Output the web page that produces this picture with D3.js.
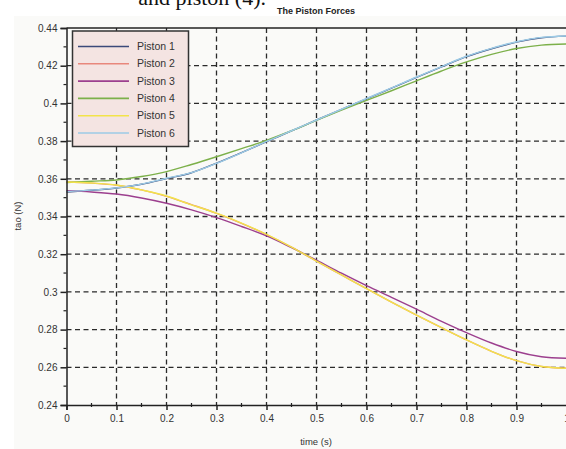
<!DOCTYPE html>
<html>
<head>
<meta charset="utf-8">
<script src="https://cdn.jsdelivr.net/npm/d3@7"></script>
<style>
  body { margin: 0; background: #ffffff; }
  svg { display: block; }
  text { font-family: "Liberation Sans", Arial, sans-serif; }
</style>
</head>
<body>
<svg id="svg1" width="566" height="449"></svg>
<script>
"use strict"

// ======================================================================
// chart data
const time = [0, 0.05, 0.1, 0.15, 0.2, 0.25, 0.3, 0.35, 0.4, 0.45, 0.5,
              0.55, 0.6, 0.65, 0.7, 0.75, 0.8, 0.85, 0.9, 0.95, 1.0];

const piston1 = [0.3530, 0.3539, 0.3551, 0.3571, 0.3601, 0.3632, 0.3683, 0.3739, 0.3797, 0.3854, 0.3912,
                 0.3968, 0.4024, 0.4081, 0.4138, 0.4194, 0.4248, 0.4290, 0.4325, 0.4348, 0.4357];
const piston2 = [0.3583, 0.3577, 0.3566, 0.3541, 0.3507, 0.3463, 0.3417, 0.3364, 0.3304, 0.3237, 0.3163,
                 0.3090, 0.3017, 0.2946, 0.2877, 0.2810, 0.2745, 0.2685, 0.2635, 0.2604, 0.2595];
const piston3 = [0.3537, 0.3530, 0.3519, 0.3498, 0.3470, 0.3435, 0.3394, 0.3347, 0.3297, 0.3235, 0.3168,
                 0.3099, 0.3033, 0.2971, 0.2908, 0.2844, 0.2784, 0.2729, 0.2684, 0.2656, 0.2648];
const piston4 = [0.3580, 0.3587, 0.3594, 0.3612, 0.3638, 0.3676, 0.3717, 0.3760, 0.3804, 0.3855, 0.3910,
                 0.3964, 0.4016, 0.4067, 0.4120, 0.4172, 0.4220, 0.4260, 0.4291, 0.4309, 0.4315];
const piston5 = [0.3583, 0.3578, 0.3567, 0.3541, 0.3509, 0.3462, 0.3418, 0.3365, 0.3305, 0.3238, 0.3163,
                 0.3090, 0.3017, 0.2946, 0.2877, 0.2810, 0.2745, 0.2685, 0.2635, 0.2604, 0.2595];
const piston6 = [0.3532, 0.3540, 0.3552, 0.3572, 0.3603, 0.3633, 0.3682, 0.3738, 0.3798, 0.3855, 0.3912,
                 0.3969, 0.4026, 0.4082, 0.4140, 0.4195, 0.4250, 0.4292, 0.4327, 0.4350, 0.4358];

const seriesNames  = ["Piston 1", "Piston 2", "Piston 3", "Piston 4", "Piston 5", "Piston 6"];
const seriesValues = [piston1, piston2, piston3, piston4, piston5, piston6];
const seriesColors = ["#3b4a7a", "#e8877c", "#9c3f8e", "#7cb04a", "#f2e34a", "#9ccbe6"];

const xTicks = [0, 0.1, 0.2, 0.3, 0.4, 0.5, 0.6, 0.7, 0.8, 0.9, 1];
const yTicks = [0.24, 0.26, 0.28, 0.3, 0.32, 0.34, 0.36, 0.38, 0.4, 0.42, 0.44];

// =======================================
// layout
const svg = d3.select("#svg1");
const plotLeft = 66.5, plotRight = 566.5, plotTop = 28, plotBottom = 405;

// light grey paper behind the figure
svg.append("rect")
  .attr("x", 14).attr("y", 16)
  .attr("width", 552).attr("height", 433)
  .attr("fill", "#fafaf8");

// cut off caption from the page above
svg.append("text")
  .attr("x", 266).attr("y", 5)
  .attr("text-anchor", "end")
  .style("font-family", "'Liberation Serif', 'Times New Roman', serif")
  .style("font-size", "22px")
  .attr("fill", "#111")
  .text("and piston (4).");

const x = d3.scaleLinear().domain([0, 1]).range([plotLeft, plotRight]);
const y = d3.scaleLinear().domain([0.24, 0.44]).range([plotBottom, plotTop]);

// grid lines
const grid = svg.append("g").attr("class", "grid")
  .attr("stroke", "#2a2a2a")
  .attr("stroke-width", 1.3)
  .attr("stroke-dasharray", "5,3.5");

grid.selectAll(".vgrid")
  .data(xTicks.filter(d => d > 0 && d < 1))
  .enter().append("line")
    .attr("class", "vgrid")
    .attr("x1", d => x(d)).attr("x2", d => x(d))
    .attr("y1", plotTop).attr("y2", plotBottom);

grid.selectAll(".hgrid")
  .data(yTicks.filter(d => d > 0.24 && d < 0.44))
  .enter().append("line")
    .attr("class", "hgrid")
    .attr("x1", plotLeft).attr("x2", plotRight)
    .attr("y1", d => y(d)).attr("y2", d => y(d));

// top frame line
svg.append("line")
  .attr("x1", plotLeft).attr("x2", plotRight)
  .attr("y1", plotTop).attr("y2", plotTop)
  .attr("stroke", "#222").attr("stroke-width", 1.5);

// curves
const line = d3.line()
  .x((d, i) => x(time[i]))
  .y(d => y(d))
  .curve(d3.curveCatmullRom);

svg.selectAll(".curve")
  .data(seriesValues)
  .enter().append("path")
    .attr("class", "curve")
    .attr("d", d => line(d))
    .attr("fill", "none")
    .attr("stroke", (d, i) => seriesColors[i])
    .attr("stroke-width", 1.4);

// axes
svg.append("g")
  .attr("class", "axis axis-x")
  .attr("transform", `translate(0,${plotBottom})`)
  .call(d3.axisBottom(x).tickValues(xTicks).tickFormat(d3.format("")).tickSize(5).tickPadding(5));

svg.append("g")
  .attr("class", "axis axis-y")
  .attr("transform", `translate(${plotLeft},0)`)
  .call(d3.axisLeft(y).tickValues(yTicks).tickFormat(d3.format("")).tickSize(6).tickPadding(3));

// minor ticks
svg.append("g").selectAll("line")
  .data(d3.range(0.05, 1, 0.1))
  .enter().append("line")
    .attr("x1", d => x(d)).attr("x2", d => x(d))
    .attr("y1", plotBottom - 2).attr("y2", plotBottom + 2)
    .attr("stroke", "#222").attr("stroke-width", 1.2);

svg.append("g").selectAll("line")
  .data(d3.range(0.25, 0.44, 0.02))
  .enter().append("line")
    .attr("x1", plotLeft - 3).attr("x2", plotLeft)
    .attr("y1", d => y(d)).attr("y2", d => y(d))
    .attr("stroke", "#222").attr("stroke-width", 1.2);

svg.selectAll(".axis path, .axis line")
  .attr("stroke", "#222")
  .attr("stroke-width", 1.5);
svg.selectAll(".axis text")
  .attr("fill", "#333")
  .style("font-size", "10px");

// axis labels and title
svg.append("text")
  .attr("x", 316).attr("y", 445)
  .attr("text-anchor", "middle")
  .style("font-size", "9.5px")
  .attr("fill", "#333")
  .text("time (s)");

svg.append("text")
  .attr("transform", "translate(21,216) rotate(-90)")
  .attr("text-anchor", "middle")
  .style("font-size", "9.5px")
  .attr("fill", "#333")
  .text("tao (N)");

svg.append("text")
  .attr("x", 316).attr("y", 14)
  .attr("text-anchor", "middle")
  .style("font-size", "9px")
  .style("font-weight", "bold")
  .attr("fill", "#222")
  .text("The Piston Forces");

// legend
const legend = svg.append("g").attr("class", "legend");
legend.append("rect")
  .attr("x", 72.5).attr("y", 31)
  .attr("width", 116).attr("height", 115.5)
  .attr("fill", "#f4e4e2")
  .attr("stroke", "#333")
  .attr("stroke-width", 1.5);

seriesNames.forEach((name, i) => {
  const ly = 46.5 + i * 17.3;
  legend.append("line")
    .attr("x1", 78).attr("x2", 129)
    .attr("y1", ly).attr("y2", ly)
    .attr("stroke", seriesColors[i])
    .attr("stroke-width", 1.6);
  legend.append("text")
    .attr("x", 137).attr("y", ly)
    .attr("dy", "0.35em")
    .style("font-size", "10.5px")
    .attr("fill", "#333")
    .text(name);
});
</script>
</body>
</html>
